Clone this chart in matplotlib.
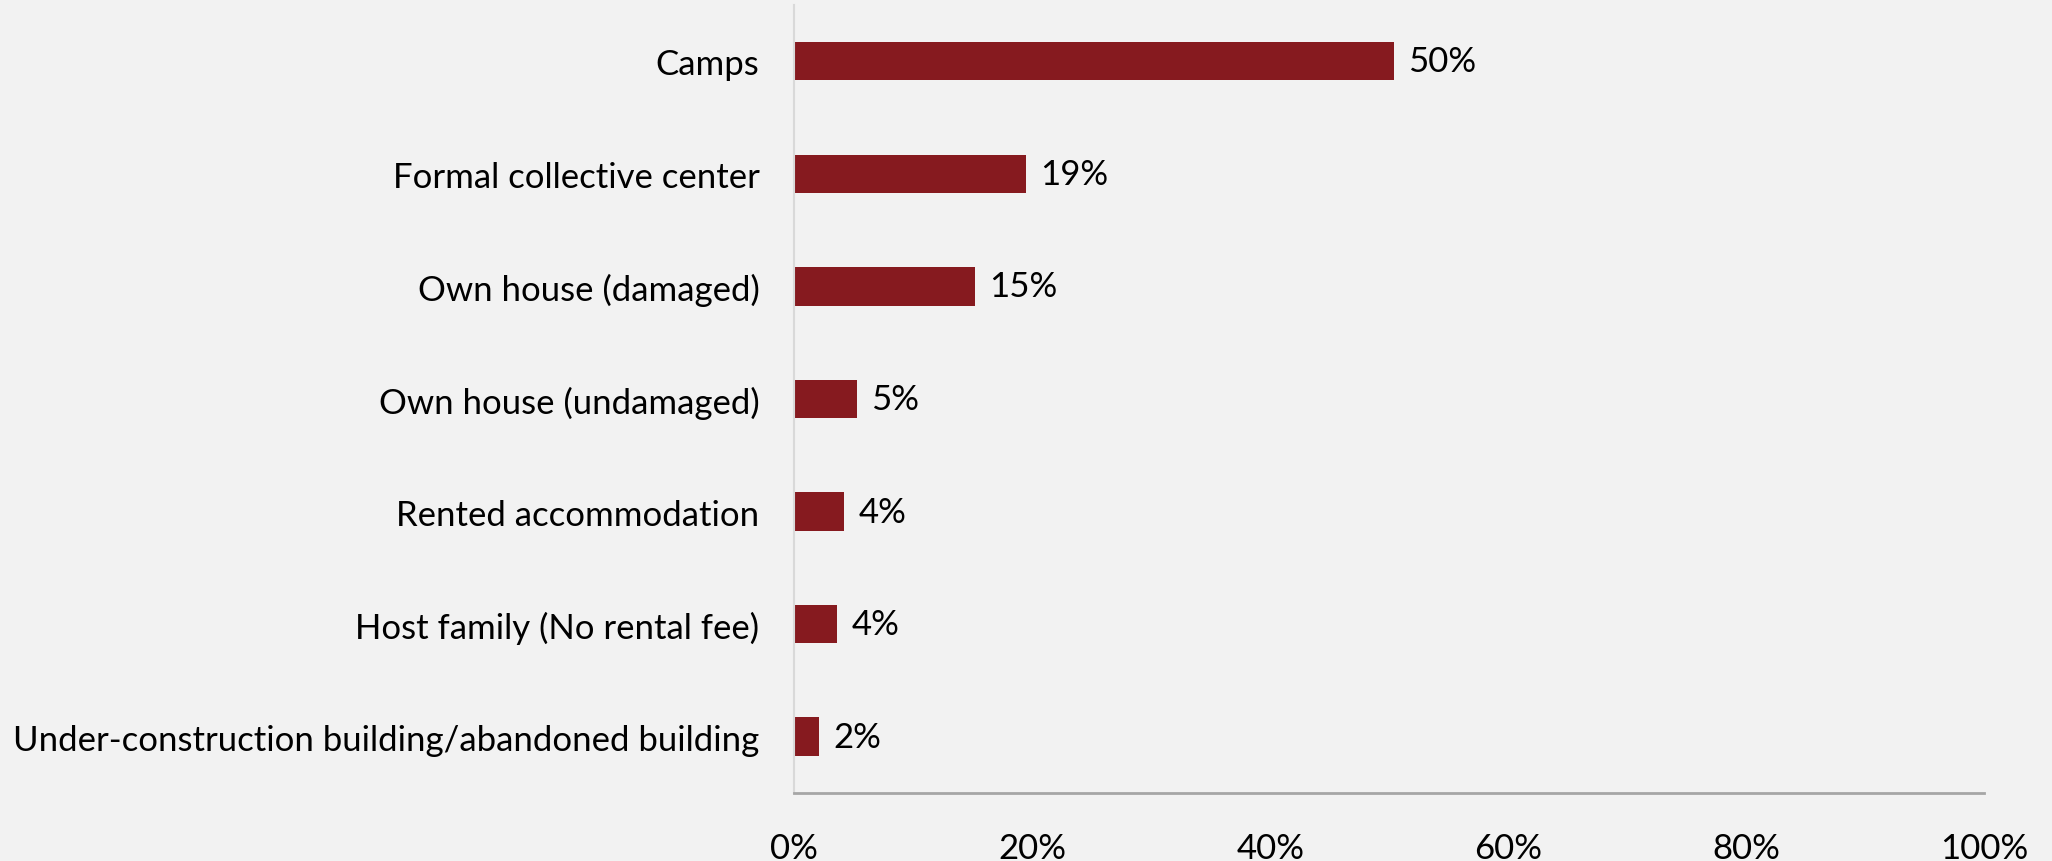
import matplotlib
matplotlib.use("Agg")
import matplotlib.pyplot as plt
import numpy as np

plt.rcParams['font.family'] = ['Lato', 'DejaVu Sans']

# shelter types, top to bottom as in the chart
categories = ['Camps', 'Formal collective center', 'Own house (damaged)',
              'Own house (undamaged)', 'Rented accommodation',
              'Host family (No rental fee)',
              'Under-construction building/abandoned building']
shares = [50.4, 19.45, 15.2, 5.3, 4.2, 3.6, 2.1]
xticks = [0, 20, 40, 60, 80, 100]

bg = '#F2F2F2'
bar_col = '#861A1F'
fs = 25

fig = plt.figure(figsize=(20.52, 8.62), dpi=100, facecolor=bg)
ax = fig.add_axes([0.387, 0.079, 0.580, 0.914])
ax.set_facecolor(bg)

y = np.arange(len(categories))
ax.barh(y, shares, height=0.34, color=bar_col)
for yi, v in zip(y, shares):
    ax.text(v + 1.2, yi, '%d%%' % round(v), va='center', ha='left',
            fontsize=fs, color='black')

ax.set_xlim(0, 100)
ax.set_ylim(len(categories) - 0.5, -0.5)
ax.set_yticks(y)
ax.set_yticklabels(categories, fontsize=fs)
ax.set_xticks(xticks)
ax.set_xticklabels(['%d%%' % t for t in xticks], fontsize=fs)
ax.tick_params(axis='both', length=0)
ax.tick_params(axis='y', pad=25)
ax.tick_params(axis='x', pad=28)

for s in ['top', 'right']:
    ax.spines[s].set_visible(False)
ax.spines['left'].set_color('#D9D9D9')
ax.spines['left'].set_linewidth(1.5)
ax.spines['bottom'].set_color('#A6A6A6')
ax.spines['bottom'].set_linewidth(2)

fig.savefig('out.png', dpi=100, facecolor=bg)
